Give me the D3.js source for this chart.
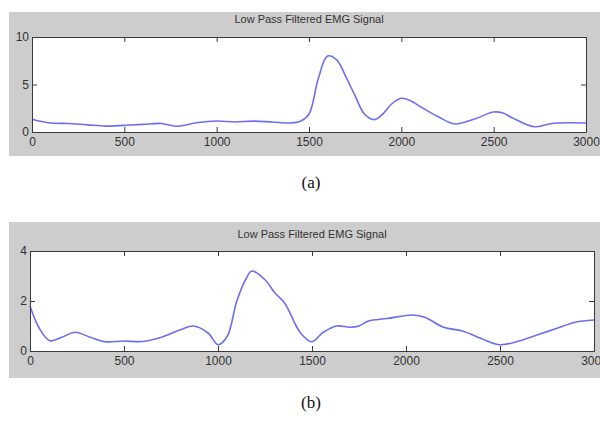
<!DOCTYPE html>
<html>
<head>
<meta charset="utf-8">
<script src="https://cdn.jsdelivr.net/npm/d3@7"></script>
<style>
  body { margin: 0; background: #fff; }
</style>
</head>
<body>
<svg id="canvas"></svg>
<script>
const title = "Low Pass Filtered EMG Signal";
const xTicks = [0, 500, 1000, 1500, 2000, 2500, 3000];

// panel (a)
const timeA = [0, 100, 200, 300, 400, 500, 600, 700, 780, 900, 1000, 1100, 1200, 1300, 1400, 1450,
    1500, 1550, 1600, 1650, 1700, 1750, 1800, 1855, 1900, 1950, 2000, 2050, 2100, 2200, 2290,
    2400, 2500, 2550, 2600, 2720, 2800, 2850, 3000];
const valueA = [1.35, 0.95, 0.9, 0.75, 0.62, 0.7, 0.8, 0.9, 0.6, 1.0, 1.15, 1.05, 1.15, 1.05, 0.95, 1.1,
    1.9, 5.6, 8.0, 7.6, 5.8, 3.8, 1.9, 1.3, 1.9, 3.0, 3.55, 3.3, 2.7, 1.6, 0.85,
    1.4, 2.1, 2.0, 1.5, 0.55, 0.85, 0.95, 0.95];
const yTicksA = [0, 5, 10];

// panel (b)
const timeB = [0, 50, 106, 170, 240, 320, 400, 500, 600, 700, 800, 870, 950, 1000, 1050, 1100, 1150, 1180,
    1250, 1300, 1356, 1436, 1498, 1560, 1630, 1700, 1750, 1800, 1900, 2037, 2100, 2200, 2300, 2400, 2500,
    2600, 2700, 2800, 2900, 3000];
const valueB = [1.8, 0.9, 0.41, 0.55, 0.75, 0.55, 0.37, 0.4, 0.38, 0.55, 0.85, 1.0, 0.7, 0.25, 0.6, 2.0, 2.9, 3.2,
    2.85, 2.35, 1.9, 0.75, 0.37, 0.75, 1.0, 0.95, 1.0, 1.2, 1.3, 1.44, 1.35, 0.95, 0.8, 0.5, 0.25,
    0.4, 0.65, 0.9, 1.15, 1.24];
const yTicksB = [0, 2, 4];

const width = 600;
const height = 421;

const svg = d3.select("#canvas")
    .attr("width", width)
    .attr("height", height);

renderPanel({ x: 9, y: 12, w: 591, h: 144 }, { left: 32, right: 586, top: 37, bottom: 132 },
    timeA, valueA, [0, 10], yTicksA, 23, "(a)", 188);
renderPanel({ x: 9, y: 222, w: 591, h: 156 }, { left: 30, right: 594, top: 251, bottom: 351 },
    timeB, valueB, [0, 4], yTicksB, 238, "(b)", 408);

function renderPanel(bg, box, time, value, yDomain, yTicks, titleY, caption, captionY) {
    const g = svg.append("g");
    g.append("rect")
        .attr("x", bg.x).attr("y", bg.y)
        .attr("width", bg.w).attr("height", bg.h)
        .attr("fill", "#cdcdcd");

    const scaleX = d3.scaleLinear().domain([0, 3000]).range([box.left, box.right]);
    const scaleY = d3.scaleLinear().domain(yDomain).range([box.bottom, box.top]);

    g.append("rect")
        .attr("x", box.left).attr("y", box.top)
        .attr("width", box.right - box.left).attr("height", box.bottom - box.top)
        .attr("fill", "#fff");

    const data = time.map((t, i) => ({ t: t, v: value[i] }));
    const line = d3.line()
        .x(d => scaleX(d.t))
        .y(d => scaleY(d.v))
        .curve(d3.curveCatmullRom.alpha(0.5));
    g.append("path")
        .attr("d", line(data))
        .attr("fill", "none")
        .attr("stroke", "#6e6ef0")
        .attr("stroke-width", 1.6);

    const font = "Arial, 'Liberation Sans', sans-serif";
    const style = axis => axis.call(s => {
        s.select(".domain").attr("stroke", "#3a3a3a");
        s.selectAll(".tick line").attr("stroke", "#3a3a3a");
        s.selectAll("text").attr("fill", "#333").attr("font-family", font).attr("font-size", 12);
    });
    const fmt = d3.format("d");

    g.append("g").attr("transform", `translate(0,${box.bottom})`)
        .call(d3.axisBottom(scaleX).tickValues(xTicks).tickFormat(fmt).tickSize(-5).tickSizeOuter(0).tickPadding(5))
        .call(style);
    g.append("g").attr("transform", `translate(0,${box.top})`)
        .call(d3.axisTop(scaleX).tickValues(xTicks).tickSize(-5).tickSizeOuter(0).tickFormat(""))
        .call(style);
    g.append("g").attr("transform", `translate(${box.left},0)`)
        .call(d3.axisLeft(scaleY).tickValues(yTicks).tickFormat(fmt).tickSize(-5).tickSizeOuter(0).tickPadding(3))
        .call(style);
    g.append("g").attr("transform", `translate(${box.right},0)`)
        .call(d3.axisRight(scaleY).tickValues(yTicks).tickSize(-5).tickSizeOuter(0).tickFormat(""))
        .call(style);

    g.append("text")
        .attr("x", (box.left + box.right) / 2).attr("y", titleY)
        .attr("text-anchor", "middle")
        .attr("font-family", font).attr("font-size", 11)
        .attr("fill", "#333")
        .text(title);

    svg.append("text")
        .attr("x", 311).attr("y", captionY)
        .attr("text-anchor", "middle")
        .attr("font-family", "'Liberation Serif', 'Times New Roman', serif")
        .attr("font-size", 17)
        .attr("fill", "#111")
        .text(caption);
}
</script>
</body>
</html>
